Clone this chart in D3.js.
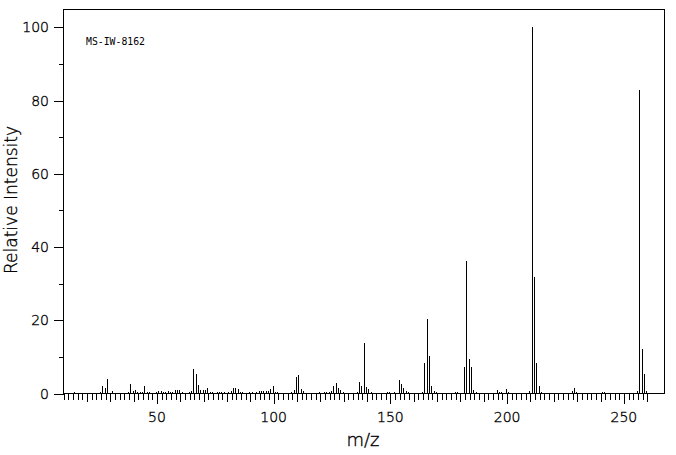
<!DOCTYPE html>
<html>
<head>
<meta charset="utf-8">
<script src="https://cdn.jsdelivr.net/npm/d3@7/dist/d3.min.js"></script>
<style>
  html, body { margin: 0; padding: 0; background: #fff; }
  svg { display: block; }
</style>
</head>
<body>
<svg id="chart" width="676" height="455"></svg>
<script>
// m/z values and relative intensities
const mz = [15, 26, 27, 28, 29, 31, 38, 39, 40, 41, 42, 43, 44, 45, 46, 47,
  50, 51, 52, 53, 54, 55, 56, 57, 58, 59, 60, 61, 64, 65, 66, 67, 68, 69, 70, 71, 72, 73, 74,
  76, 77, 78, 79, 81, 82, 83, 84, 85, 86, 87, 90, 91, 93, 94, 95, 96, 97, 98, 99, 100, 101, 102,
  108, 109, 110, 111, 112, 113, 120, 122, 123, 124, 125, 126, 127, 128, 129, 130,
  136, 137, 138, 139, 140, 141, 142, 149, 150, 152, 154, 155, 156, 157, 158,
  164, 165, 166, 167, 168, 169, 170, 178, 179, 182, 183, 184, 185, 186, 187,
  196, 197, 198, 200, 201, 210, 211, 212, 213, 214, 215, 228, 229, 230, 241, 242,
  256, 257, 258, 259, 260];
const intensity = [0.4, 0.5, 2.0, 1.4, 3.9, 0.6, 0.4, 2.5, 0.6, 0.9, 0.4, 0.4, 0.4, 2.0, 0.4, 0.4,
  0.4, 0.6, 0.6, 0.4, 0.4, 0.6, 0.4, 0.4, 0.9, 0.9, 0.9, 0.4, 0.4, 0.6, 6.6, 5.3, 2.3, 0.9, 0.9, 0.9, 1.4, 0.4, 0.4,
  0.4, 0.4, 0.4, 0.4, 0.4, 0.6, 1.4, 1.4, 1.1, 0.4, 0.4, 0.4, 0.4, 0.4, 0.6, 0.6, 0.6, 0.6, 0.6, 1.3, 2.0, 0.4, 0.4,
  0.4, 0.9, 4.5, 5.0, 1.2, 0.6, 0.4, 0.4, 0.4, 0.4, 0.6, 2.0, 2.8, 1.4, 0.9, 0.4,
  0.4, 3.1, 2.0, 13.7, 1.7, 1.2, 0.4, 0.4, 0.4, 0.4, 3.6, 2.5, 1.4, 0.6, 0.4,
  0.4, 8.3, 20.3, 10.2, 2.0, 0.6, 0.4, 0.4, 0.4, 7.3, 36.2, 9.4, 7.3, 0.9, 0.4,
  0.9, 0.4, 0.4, 1.2, 0.4, 0.6, 100, 31.8, 8.4, 2.0, 0.4, 0.6, 1.4, 0.4, 0.4, 0.4,
  0.6, 82.9, 12.1, 5.3, 0.6];

const yTicks = [0, 20, 40, 60, 80, 100];
const yMinorTicks = [10, 30, 50, 70, 90];
const xTickLabels = [50, 100, 150, 200, 250];
const xMidTicks = [20, 30, 40, 60, 70, 80, 90, 110, 120, 130, 140, 160, 170, 180, 190, 210, 220, 230, 240, 260];
const xMinorTicks = d3.range(10, 261, 2);
const sampleId = "MS-IW-8162";

const svg = d3.select("#chart");
const L = 63.5, R = 664.5, T = 9.5, B = 393.5;

const x = d3.scaleLinear().domain([10, 267.4]).range([L, R]);
const y = d3.scaleLinear().domain([0, 104.9]).range([B, T]);

function thinText(sel) {
  return sel.attr("font-family", "'DejaVu Sans', sans-serif")
    .attr("font-weight", 200)
    .attr("fill", "#000")
    .attr("stroke", "#000")
    .attr("stroke-width", 0.35);
}

// frame
svg.append("rect")
  .attr("x", L).attr("y", T).attr("width", R - L).attr("height", B - T)
  .attr("fill", "none").attr("stroke", "#000").attr("stroke-width", 1);

// x-axis ticks (three lengths)
function xTickAxis(vals, size) {
  const g = svg.append("g").attr("transform", `translate(0,${B})`)
    .call(d3.axisBottom(x).tickValues(vals).tickSize(size).tickFormat(""));
  g.select(".domain").remove();
  g.selectAll("line").attr("stroke", "#000").attr("shape-rendering", "crispEdges");
  g.selectAll("text").remove();
  return g;
}
xTickAxis(xMinorTicks, 6);
xTickAxis(xMidTicks, 8);
xTickAxis(xTickLabels, 10);
svg.append("g").selectAll("text").data(xTickLabels).join("text")
  .call(thinText)
  .attr("x", d => x(d)).attr("y", 422)
  .attr("text-anchor", "middle").attr("font-size", 14)
  .text(d => d);

// y-axis ticks
function yTickAxis(vals, size) {
  const g = svg.append("g").attr("transform", `translate(${L},0)`)
    .call(d3.axisLeft(y).tickValues(vals).tickSize(size).tickFormat(""));
  g.select(".domain").remove();
  g.selectAll("line").attr("stroke", "#000").attr("shape-rendering", "crispEdges");
  g.selectAll("text").remove();
  return g;
}
yTickAxis(yMinorTicks, 5);
yTickAxis(yTicks, 10);
svg.append("g").selectAll("text").data(yTicks).join("text")
  .call(thinText)
  .attr("x", 49).attr("y", d => y(d) + 5)
  .attr("text-anchor", "end").attr("font-size", 14)
  .text(d => d);

// peaks
const data = mz.map((m, i) => ({ m, v: intensity[i] }));
svg.append("g").selectAll("line").data(data).join("line")
  .attr("x1", d => Math.round(x(d.m)) - 0.5).attr("x2", d => Math.round(x(d.m)) - 0.5)
  .attr("y1", y(0)).attr("y2", d => y(d.v))
  .attr("stroke", "#000").attr("stroke-width", 1)
  .attr("shape-rendering", "crispEdges");

// labels
svg.append("text")
  .attr("x", 86).attr("y", 45)
  .attr("font-family", "'DejaVu Sans Mono', monospace")
  .attr("font-size", 9.8).attr("fill", "#000")
  .text(sampleId);

svg.append("text").call(thinText)
  .attr("x", 363).attr("y", 446)
  .attr("text-anchor", "middle").attr("font-size", 18)
  .text("m/z");

svg.append("text").call(thinText)
  .attr("transform", "translate(17,200) rotate(-90)")
  .attr("text-anchor", "middle").attr("font-size", 17)
  .text("Relative Intensity");
</script>
</body>
</html>
